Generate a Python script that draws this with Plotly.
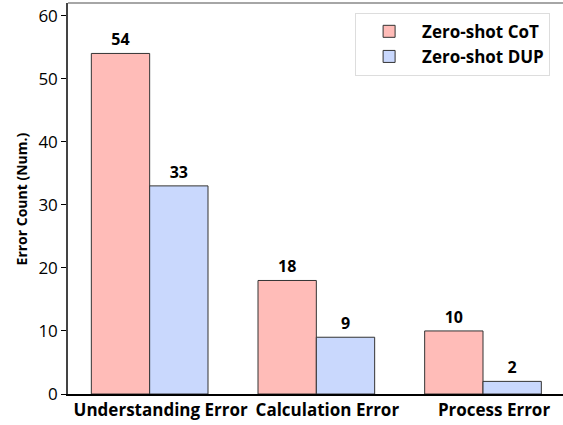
import plotly.graph_objects as go

categories = ["Understanding Error", "Calculation Error", "Process Error"]
cot_counts = [54, 18, 10]
dup_counts = [33, 9, 2]

font_family = "Open Sans"

fig = go.Figure()

fig.add_trace(go.Bar(
    x=categories,
    y=cot_counts,
    name="<b>Zero-shot CoT</b>",
    marker=dict(color="#ffbcb8", line=dict(color="#333333", width=1)),
    text=[f"<b>{v}</b>" for v in cot_counts],
    textposition="outside",
    textfont=dict(size=16, color="black", family=font_family),
    cliponaxis=False,
))

fig.add_trace(go.Bar(
    x=categories,
    y=dup_counts,
    name="<b>Zero-shot DUP</b>",
    marker=dict(color="#c9d8fd", line=dict(color="#333333", width=1)),
    text=[f"<b>{v}</b>" for v in dup_counts],
    textposition="outside",
    textfont=dict(size=16, color="black", family=font_family),
    cliponaxis=False,
))

# Update axes properties
fig.update_xaxes(
    type="category",
    range=[-0.49, 2.48],
    automargin=False,
    showgrid=False,
    zeroline=False,
    showline=True,
    linecolor="black",
    linewidth=1.5,
    ticks="",
    ticklabelshift=11,
    tickfont=dict(size=17, color="black", family=font_family),
    tickprefix="<b>",
    ticksuffix="</b>",
)

fig.update_yaxes(
    range=[0, 62],
    tickvals=[0, 10, 20, 30, 40, 50, 60],
    automargin=False,
    showgrid=False,
    zeroline=False,
    showline=True,
    linecolor="#444444",
    linewidth=1.5,
    ticks="outside",
    ticklen=5,
    tickcolor="black",
    tickprefix="<b>",
    ticksuffix="</b>",
    tickfont=dict(size=17, color="black", family=font_family),
)

# y-axis title
fig.add_annotation(
    text="<b>Error Count (Num.)</b>",
    xref="paper", yref="paper",
    x=-0.093, y=0.5, xanchor="center", yanchor="middle",
    textangle=-90, showarrow=False,
    font=dict(size=14, color="black", family=font_family),
)

# top frame line
fig.add_shape(type="line",
              xref="paper", yref="paper",
              x0=0, y0=1, x1=1, y1=1,
              line=dict(color="#888888", width=1.5))

fig.update_layout(
    width=563,
    height=425,
    margin=dict(l=68, r=0, t=3, b=31),
    barmode="group",
    bargap=0.3,
    bargroupgap=0,
    plot_bgcolor="white",
    paper_bgcolor="white",
    font=dict(family=font_family, color="black"),
    legend=dict(
        x=0.58, y=0.975,
        xanchor="left", yanchor="top",
        bordercolor="#dddddd",
        borderwidth=1,
        bgcolor="white",
        font=dict(size=17, color="black", family=font_family),
        itemwidth=56,
        entrywidth=140,
        tracegroupgap=6,
    ),
)

fig.write_html(
    "out.html",
    config={"displayModeBar": False},
    post_script="document.body.style.margin='0';document.body.style.overflow='hidden';",
)
